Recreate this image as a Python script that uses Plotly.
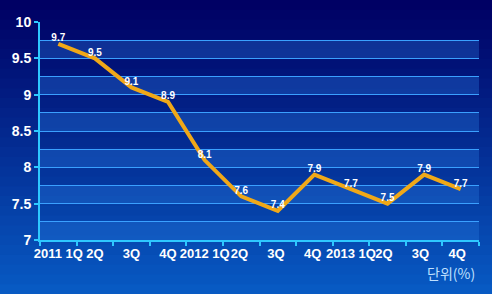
import plotly.graph_objects as go

categories = ["2011 1Q", "2Q", "3Q", "4Q", "2012 1Q", "2Q ", "3Q ", "4Q ",
              "2013 1Q", "2Q  ", "3Q  ", "4Q  "]
values = [9.7, 9.5, 9.1, 8.9, 8.1, 7.6, 7.4, 7.9, 7.7, 7.5, 7.9, 7.7]
y_ticks = [7, 7.5, 8, 8.5, 9, 9.5, 10]
y_tick_labels = ["7", "7.5", "8", "8.5", "9", "9.5", "10"]
band_starts = [7.0, 7.5, 8.0, 8.5, 9.0, 9.5]

W, H = 492, 294
L, R, T, B = 40, 13, 22, 54
ph = H - T - B
pw = W - L - R

fig = go.Figure()
fig.add_trace(go.Scatter(
    x=categories, y=values, mode="lines+text",
    line=dict(color="#f0a818", width=4),
    text=[f"{v:.1f}" for v in values], textposition="top center",
    textfont=dict(family="Liberation Sans, Arial", size=10, color="white", weight="bold"),
    cliponaxis=False, hoverinfo="skip"))

shapes = []
# background gradient
n = 30
y0f = -B / ph
y1f = 1 + T / ph
x0f = -L / pw - 0.05
x1f = 1 + R / pw + 0.05
top = (0, 0, 100)
bot = (8, 90, 195)
step = (y1f - y0f) / n
for i in range(n):
    f = i / (n - 1)
    c = tuple(int(top[k] + (bot[k] - top[k]) * f) for k in range(3))
    ya = y1f - step * i
    yb = ya - step * 1.6
    shapes.append(dict(type="rect", xref="paper", yref="paper", x0=x0f, x1=x1f,
                       y0=yb, y1=ya + (0.05 if i == 0 else 0), fillcolor="rgb(%d,%d,%d)" % c,
                       line=dict(width=0), layer="below"))
for s in band_starts:
    shapes.append(dict(type="rect", xref="paper", yref="y", x0=0, x1=1,
                       y0=s, y1=s + 0.25, fillcolor="rgba(40,120,220,0.35)",
                       line=dict(width=0), layer="below"))
fig.update_layout(shapes=shapes)

fig.add_annotation(text="단위(%)", xref="paper", yref="paper", x=0.995, y=-0.152,
                   xanchor="right", yanchor="middle", showarrow=False,
                   font=dict(family="Noto Sans CJK KR, Liberation Sans", size=14, color="#bfe0ff"))

fig.update_layout(
    width=W, height=H, margin=dict(l=L, r=R, t=T, b=B),
    paper_bgcolor="rgba(0,0,0,0)", plot_bgcolor="rgba(0,0,0,0)",
    showlegend=False,
    font=dict(family="Liberation Sans, Arial", color="white"),
    xaxis=dict(type="category", tickson="boundaries", showgrid=False,
               showline=True, linecolor="#2ec8ff", linewidth=2,
               ticks="outside", ticklen=4, tickcolor="#2ec8ff", tickwidth=2,
               tickangle=0,
               tickfont=dict(size=13, color="white", weight="bold"),
               range=[-0.5, 11.5], zeroline=False),
    yaxis=dict(range=[7, 10], tickvals=y_ticks, ticktext=y_tick_labels,
               showgrid=True, gridcolor="#3aa0ff", gridwidth=1,
               minor=dict(dtick=0.25, showgrid=True, gridcolor="#3aa0ff", gridwidth=1),
               showline=True, linecolor="#2ec8ff", linewidth=2,
               ticks="outside", ticklen=4, tickcolor="#2ec8ff", tickwidth=2,
               tickfont=dict(size=14, color="white", weight="bold"),
               zeroline=False),
)
fig.write_html("out.html")
